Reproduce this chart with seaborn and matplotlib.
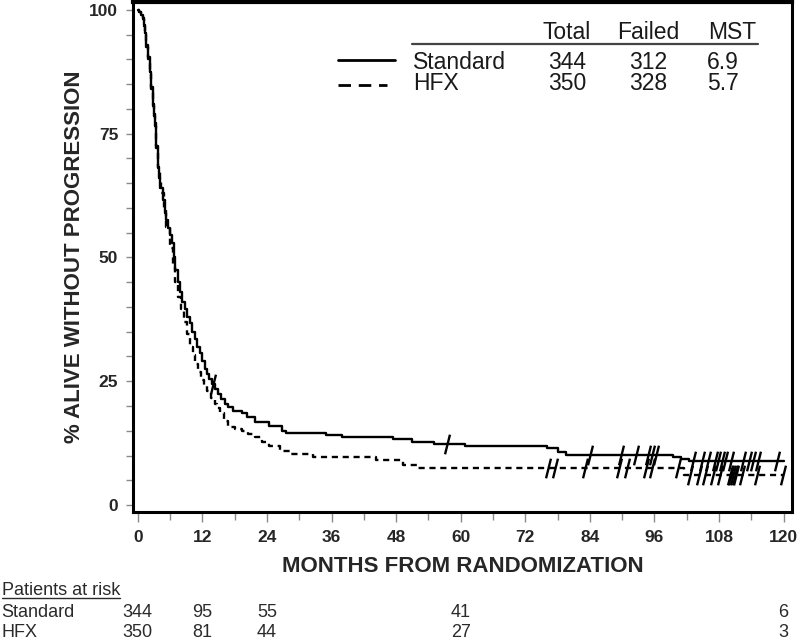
import numpy as np
import pandas as pd
import matplotlib
matplotlib.use("Agg")
import matplotlib.pyplot as plt
import seaborn as sns
from matplotlib.path import Path
from matplotlib.lines import Line2D
from matplotlib.transforms import blended_transform_factory
from matplotlib.ticker import MultipleLocator

# ---------------- data ----------------
std_t = [0, 0.3, 0.6, 0.9, 1.1, 1.3, 1.6, 1.9, 2.2, 2.5, 2.8, 3.0, 3.2, 3.45, 3.7, 3.95,
         4.2, 4.6, 5.0, 5.3, 5.6, 5.95, 6.3, 6.65, 7.0, 7.4, 7.8, 8.25, 8.7, 9.2, 9.7,
         10.15, 10.6, 11.05, 11.5, 12.0, 12.5, 12.9, 13.3, 13.8, 14.3, 14.9, 15.5, 16.2,
         16.8, 17.7, 19.3, 20.2, 21.8, 24.3, 26.8, 27.6, 35.0, 38.0, 47.5, 50.9, 55.0,
         60.8, 76.0, 78.0, 79.5, 99.5, 101.0, 102.5, 120.0]
std_s = [100, 99.6, 99.0, 98.4, 97.0, 95.4, 93.0, 90.5, 87.5, 84.4, 81.0, 79.0, 77.2, 72.5,
         68.3, 66.0, 64.0, 61.5, 59.0, 57.5, 56.0, 54.5, 53.0, 50.0, 47.5, 45.0, 43.0,
         41.0, 39.5, 38.0, 36.8, 35.0, 33.5, 32.0, 30.7, 29.0, 27.5, 26.5, 25.5, 24.5,
         23.5, 22.5, 21.5, 20.5, 19.8, 19.0, 18.6, 17.7, 16.7, 16.0, 15.0, 14.5, 14.2,
         13.7, 13.3, 12.8, 12.4, 12.0, 11.5, 10.8, 10.1, 9.7, 9.2, 8.8, 8.8]

hfx_t = [0, 0.3, 0.6, 0.9, 1.1, 1.3, 1.6, 1.9, 2.2, 2.5, 2.8, 3.0, 3.2, 3.45, 3.7, 4.05,
         4.4, 4.85, 5.3, 5.9, 6.5, 7.0, 7.5, 8.0, 8.5, 9.1, 9.7, 10.2, 10.7, 11.25, 11.8,
         12.3, 12.8, 13.6, 14.4, 14.8, 15.2, 16.0, 16.8, 18.0, 19.3, 20.5, 21.8, 23.0,
         24.3, 26.5, 28.5, 32.6, 44.2, 49.2, 52.0, 101.5, 120.0]
hfx_s = [100, 99.5, 98.9, 98.2, 96.7, 95.0, 92.5, 90.0, 87.0, 84.0, 80.5, 78.5, 76.5, 72.0,
         68.0, 65.5, 63.0, 59.5, 56.2, 52.0, 48.0, 45.0, 42.1, 39.5, 37.0, 34.5, 32.0,
         30.2, 28.5, 26.8, 25.3, 24.0, 23.0, 21.7, 20.5, 19.5, 18.5, 17.0, 15.7, 15.3,
         15.0, 14.3, 13.7, 12.8, 12.0, 11.0, 10.3, 9.7, 9.0, 8.0, 7.4, 6.1, 6.1]

std_cens = [14.0, 57.5, 84.0, 89.8, 92.5, 94.8, 95.6, 96.2, 103.2, 104.8, 106.0, 107.2,
            107.9, 108.5, 109.1, 110.3, 112.5, 113.6, 114.4, 115.2, 118.8]
hfx_cens = [76.3, 77.6, 83.1, 89.4, 90.9, 94.5, 95.6, 100.4, 102.6, 104.2, 105.4, 106.9,
            108.2, 110.0, 110.3, 110.6, 110.9, 111.2, 112.3, 115.0, 119.8]

groups = ["Standard", "HFX"]
totals = [344, 350]
failed = [312, 328]
mst = ["6.9", "5.7"]

risk_times = [0, 12, 24, 60, 120]
risk_std = [344, 95, 55, 41, 6]
risk_hfx = [350, 81, 44, 27, 3]

xticks = list(range(0, 121, 12))
yticks = [0, 25, 50, 75, 100]

# ---------------- style ----------------
sns.set_style("ticks")
plt.rcParams["font.family"] = ["Liberation Sans", "DejaVu Sans"]

fig = plt.figure(figsize=(8, 6.4), dpi=100)
ax = fig.add_axes([0.166, 0.2, 0.824, 0.797])

df_std = pd.DataFrame({"month": std_t, "pct": std_s})
df_hfx = pd.DataFrame({"month": hfx_t, "pct": hfx_s})

sns.lineplot(data=df_std, x="month", y="pct", drawstyle="steps-post", estimator=None,
             color="black", linewidth=1.7, ax=ax)
sns.lineplot(data=df_hfx, x="month", y="pct", drawstyle="steps-post", estimator=None,
             color="black", linewidth=1.7, linestyle=(0, (2.6, 2.0)), ax=ax)


def step_at(t, s, c):
    t = np.asarray(t)
    idx = np.searchsorted(t, c, side="right") - 1
    return np.asarray(s)[idx]


tick_marker = Path([(-0.25, -1.0), (0.25, 1.0)], [Path.MOVETO, Path.LINETO])
sns.scatterplot(x=std_cens, y=step_at(std_t, std_s, std_cens), marker=tick_marker, s=200,
                color="black", edgecolor="black", linewidth=1.7, ax=ax, zorder=3)
sns.scatterplot(x=hfx_cens, y=step_at(hfx_t, hfx_s, hfx_cens), marker=tick_marker, s=200,
                color="black", edgecolor="black", linewidth=1.7, ax=ax, zorder=3)

# ---------------- axes ----------------
ax.set_xlim(-0.93, 121.56)
ax.set_ylim(-1.41, 101.6)
ax.set_xticks(xticks, labels=[str(v) for v in xticks], fontsize=12.5, fontweight="bold")
ax.set_yticks(yticks, labels=[str(v) for v in yticks], fontsize=12.5, fontweight="bold")
ax.xaxis.set_minor_locator(MultipleLocator(6))
ax.yaxis.set_minor_locator(MultipleLocator(5))
ax.tick_params(axis="x", which="major", length=7.5, width=1, color="#8a8a8a", pad=5.5)
ax.tick_params(axis="x", which="minor", length=6, width=1, color="#8a8a8a")
ax.tick_params(axis="y", which="major", length=5, width=1, color="#8a8a8a", pad=5.5)
ax.tick_params(axis="y", which="minor", length=5, width=1, color="#8a8a8a")
for sp in ax.spines.values():
    sp.set_visible(True)
    sp.set_linewidth(2.2)
    sp.set_color("black")
ax.spines["top"].set_linewidth(3)

ax.set_xlabel("MONTHS FROM RANDOMIZATION", fontsize=16, fontweight="bold", labelpad=8)
ax.set_ylabel("% ALIVE WITHOUT PROGRESSION", fontsize=16, fontweight="bold", labelpad=3)

# ---------------- legend table ----------------
tc = "#1a1a1a"
lfs = 16.5
ax.add_line(Line2D([0.311, 0.398], [0.8865, 0.8865], transform=ax.transAxes,
                   color="black", linewidth=2))
ax.add_line(Line2D([0.311, 0.385], [0.8376, 0.8376], transform=ax.transAxes,
                   color="black", linewidth=2, linestyle=(0, (4.5, 2.8))))
ax.add_line(Line2D([0.4234, 0.948], [0.918, 0.918], transform=ax.transAxes,
                   color="#444444", linewidth=1.6))
col_x = [0.6586, 0.7815, 0.909]
for x, h in zip(col_x, ["Total", "Failed", "MST"]):
    ax.text(x, 0.9276, h, transform=ax.transAxes, ha="center", va="baseline",
            fontsize=lfs, color=tc)
row_y = [0.8689, 0.8278]
val_x = [0.6586, 0.7815, 0.8953]
for i, g in enumerate(groups):
    ax.text(0.425, row_y[i], g, transform=ax.transAxes, ha="left", va="baseline",
            fontsize=lfs, color=tc)
    for x, v in zip(val_x, [str(totals[i]), str(failed[i]), mst[i]]):
        ax.text(x, row_y[i], v, transform=ax.transAxes, ha="center", va="baseline",
                fontsize=lfs, color=tc)

# ---------------- patients at risk ----------------
rfs = 13
rc = "#2a2a2a"
t_title = fig.text(0.002, 0.0703, "Patients at risk", ha="left", va="baseline",
                   fontsize=rfs, color=rc)
fig.text(0.002, 0.0359, "Standard", ha="left", va="baseline", fontsize=rfs, color=rc)
fig.text(0.002, 0.0047, "HFX", ha="left", va="baseline", fontsize=rfs, color=rc)
blend = blended_transform_factory(ax.transData, fig.transFigure)
for t, a, b in zip(risk_times, risk_std, risk_hfx):
    ax.text(t, 0.0359, str(a), transform=blend, ha="center", va="baseline",
            fontsize=rfs, color=rc, clip_on=False)
    ax.text(t, 0.0047, str(b), transform=blend, ha="center", va="baseline",
            fontsize=rfs, color=rc, clip_on=False)

fig.canvas.draw()
bb = t_title.get_window_extent()
fig.add_artist(Line2D([bb.x0, bb.x1], [0.0703 * 640 - 2.5, 0.0703 * 640 - 2.5],
                      transform=None, color=rc, linewidth=1))

fig.savefig("out.png", dpi=100)
